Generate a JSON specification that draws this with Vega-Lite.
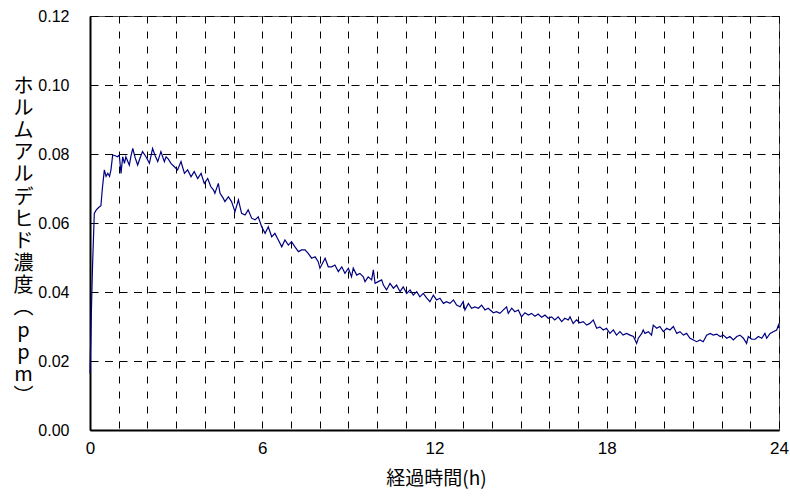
{
  "$schema": "https://vega.github.io/schema/vega-lite/v6.json",
  "width": 689,
  "height": 414,
  "autosize": {"type": "none"},
  "padding": {"left": 90, "top": 16, "right": 11, "bottom": 68},
  "background": "white",
  "config": {"view": {"stroke": "#555", "strokeWidth": 1}, "font": "Liberation Sans"},
  "data": {"values": [
    {"t":0,"v":0.0164},{"t":0.05,"v":0.035},{"t":0.09,"v":0.048},{"t":0.15,"v":0.0628},{"t":0.22,"v":0.0638},{"t":0.3,"v":0.0645},{"t":0.38,"v":0.065},{"t":0.43,"v":0.07},{"t":0.5,"v":0.0754},{"t":0.56,"v":0.0735},{"t":0.62,"v":0.0744},{"t":0.68,"v":0.0735},{"t":0.73,"v":0.0754},{"t":0.79,"v":0.0797},{"t":0.88,"v":0.0795},{"t":0.96,"v":0.0792},{"t":1.02,"v":0.0797},{"t":1.08,"v":0.0744},{"t":1.14,"v":0.0792},{"t":1.2,"v":0.0773},{"t":1.25,"v":0.0792},{"t":1.31,"v":0.078},{"t":1.37,"v":0.0768},{"t":1.43,"v":0.0795},{"t":1.49,"v":0.0816},{"t":1.57,"v":0.079},{"t":1.66,"v":0.0768},{"t":1.75,"v":0.079},{"t":1.83,"v":0.0807},{"t":1.95,"v":0.0792},{"t":2.07,"v":0.0773},{"t":2.18,"v":0.0816},{"t":2.27,"v":0.0795},{"t":2.36,"v":0.0778},{"t":2.47,"v":0.0807},{"t":2.59,"v":0.0778},{"t":2.65,"v":0.0792},{"t":2.73,"v":0.0785},{"t":2.82,"v":0.0773},{"t":2.94,"v":0.0763},{"t":3.05,"v":0.0754},{"t":3.17,"v":0.0778},{"t":3.29,"v":0.0744},{"t":3.4,"v":0.0754},{"t":3.52,"v":0.0734},{"t":3.63,"v":0.0749},{"t":3.75,"v":0.0729},{"t":3.87,"v":0.0744},{"t":3.98,"v":0.0715},{"t":4.1,"v":0.0729},{"t":4.21,"v":0.0705},
    {"t":4.3,"v":0.0696},{"t":4.35,"v":0.0686},{"t":4.47,"v":0.0715},{"t":4.53,"v":0.0686},{"t":4.64,"v":0.0672},{"t":4.7,"v":0.0662},{"t":4.82,"v":0.0676},{"t":4.93,"v":0.0662},{"t":5.05,"v":0.0633},{"t":5.17,"v":0.0667},{"t":5.28,"v":0.0628},{"t":5.4,"v":0.0623},{"t":5.51,"v":0.0638},{"t":5.63,"v":0.0614},{"t":5.75,"v":0.0609},{"t":5.86,"v":0.0618},{"t":5.98,"v":0.0589},{"t":6.1,"v":0.057},{"t":6.21,"v":0.0589},{"t":6.33,"v":0.056},{"t":6.44,"v":0.057},{"t":6.56,"v":0.0551},{"t":6.68,"v":0.0531},{"t":6.79,"v":0.0551},{"t":6.91,"v":0.0536},{"t":7.02,"v":0.0546},{"t":7.14,"v":0.0531},{"t":7.26,"v":0.0517},{"t":7.37,"v":0.0522},{"t":7.49,"v":0.0522},{"t":7.6,"v":0.0512},{"t":7.72,"v":0.0498},{"t":7.84,"v":0.0502},{"t":7.95,"v":0.0488},{"t":8.01,"v":0.0469},{"t":8.19,"v":0.0498},{"t":8.3,"v":0.0473},{"t":8.42,"v":0.0473},{"t":8.53,"v":0.0478},{"t":8.65,"v":0.0459},{"t":8.77,"v":0.0473},{"t":8.88,"v":0.0454},{"t":9.0,"v":0.0469},{"t":9.11,"v":0.0444},
    {"t":9.17,"v":0.0469},{"t":9.29,"v":0.0449},{"t":9.4,"v":0.0454},{"t":9.52,"v":0.0444},{"t":9.58,"v":0.043},{"t":9.69,"v":0.0444},{"t":9.81,"v":0.0435},{"t":9.87,"v":0.0464},{"t":9.93,"v":0.0425},{"t":10.04,"v":0.043},{"t":10.16,"v":0.0435},{"t":10.22,"v":0.042},{"t":10.33,"v":0.0406},{"t":10.45,"v":0.0425},{"t":10.57,"v":0.0411},{"t":10.68,"v":0.042},{"t":10.8,"v":0.0401},{"t":10.91,"v":0.0415},{"t":11.03,"v":0.0396},{"t":11.15,"v":0.0406},{"t":11.26,"v":0.0391},{"t":11.38,"v":0.0401},{"t":11.49,"v":0.0386},{"t":11.61,"v":0.0396},{"t":11.73,"v":0.0382},{"t":11.84,"v":0.0372},{"t":11.96,"v":0.0391},{"t":12.07,"v":0.0377},{"t":12.19,"v":0.0382},{"t":12.31,"v":0.0367},{"t":12.42,"v":0.0372},{"t":12.54,"v":0.0367},{"t":12.66,"v":0.0377},{"t":12.77,"v":0.0362},{"t":12.89,"v":0.0357},{"t":13.0,"v":0.0372},{"t":13.06,"v":0.0348},{"t":13.18,"v":0.0367},{"t":13.29,"v":0.0353},{"t":13.41,"v":0.0357},{"t":13.53,"v":0.0353},{"t":13.64,"v":0.0362},{"t":13.76,"v":0.0348},{"t":13.87,"v":0.0353},
    {"t":14.05,"v":0.034},{"t":14.16,"v":0.0343},{"t":14.28,"v":0.0338},{"t":14.4,"v":0.0348},{"t":14.51,"v":0.0357},{"t":14.57,"v":0.0338},{"t":14.69,"v":0.0353},{"t":14.8,"v":0.0343},{"t":14.92,"v":0.0348},{"t":15.03,"v":0.0328},{"t":15.15,"v":0.034},{"t":15.27,"v":0.0333},{"t":15.38,"v":0.0338},{"t":15.5,"v":0.033},{"t":15.61,"v":0.0336},{"t":15.73,"v":0.0327},{"t":15.85,"v":0.0333},{"t":15.96,"v":0.0324},{"t":16.08,"v":0.0328},{"t":16.19,"v":0.0319},{"t":16.31,"v":0.0328},{"t":16.43,"v":0.0314},{"t":16.54,"v":0.0324},{"t":16.66,"v":0.0319},{"t":16.72,"v":0.0328},{"t":16.83,"v":0.0309},{"t":16.95,"v":0.0319},{"t":17.06,"v":0.0311},{"t":17.18,"v":0.0314},{"t":17.3,"v":0.0304},{"t":17.41,"v":0.0309},{"t":17.53,"v":0.0319},{"t":17.65,"v":0.0295},{"t":17.76,"v":0.0299},{"t":17.88,"v":0.029},{"t":17.99,"v":0.0295},{"t":18.11,"v":0.028},{"t":18.23,"v":0.029},{"t":18.34,"v":0.0275},{"t":18.46,"v":0.0285},{"t":18.57,"v":0.0275},{"t":18.69,"v":0.028},
    {"t":18.81,"v":0.0275},{"t":18.93,"v":0.0271},{"t":19.04,"v":0.0251},{"t":19.1,"v":0.0266},{"t":19.22,"v":0.028},{"t":19.27,"v":0.029},{"t":19.33,"v":0.028},{"t":19.45,"v":0.0285},{"t":19.56,"v":0.0275},{"t":19.62,"v":0.0304},{"t":19.74,"v":0.0295},{"t":19.85,"v":0.03},{"t":19.97,"v":0.0285},{"t":20.09,"v":0.0295},{"t":20.2,"v":0.029},{"t":20.32,"v":0.03},{"t":20.44,"v":0.028},{"t":20.55,"v":0.0285},{"t":20.67,"v":0.0275},{"t":20.78,"v":0.028},{"t":20.9,"v":0.0266},{"t":21.02,"v":0.0261},{"t":21.13,"v":0.0256},{"t":21.25,"v":0.0261},{"t":21.36,"v":0.0256},{"t":21.48,"v":0.0275},{"t":21.6,"v":0.028},{"t":21.71,"v":0.0275},{"t":21.83,"v":0.0278},{"t":21.95,"v":0.0271},{"t":22.06,"v":0.0275},{"t":22.18,"v":0.0266},{"t":22.29,"v":0.0271},{"t":22.41,"v":0.0261},{"t":22.53,"v":0.0271},{"t":22.64,"v":0.0275},{"t":22.76,"v":0.0266},{"t":22.87,"v":0.0251},{"t":22.93,"v":0.0271},{"t":23.05,"v":0.0263},{"t":23.17,"v":0.0263},{"t":23.28,"v":0.0271},{"t":23.4,"v":0.0266},{"t":23.51,"v":0.028},{"t":23.57,"v":0.0266},{"t":23.69,"v":0.028},{"t":23.8,"v":0.0285},{"t":23.92,"v":0.029},{"t":23.98,"v":0.0304},{"t":24.0,"v":0.0295}
  ]},
  "mark": {"type": "line", "color": "#000080", "strokeWidth": 1.2},
  "encoding": {
    "x": {
      "field": "t", "type": "quantitative",
      "scale": {"domain": [0, 24], "nice": false},
      "axis": {
        "values": [0,0.5,1,1.5,2,2.5,3,3.5,4,4.5,5,5.5,6,6.5,7,7.5,8,8.5,9,9.5,10,10.5,11,11.5,12,12.5,13,13.5,14,14.5,15,15.5,16,16.5,17,17.5,18,18.5,19,19.5,20,20.5,21,21.5,22,22.5,23,23.5,24],
        "format": "d",
        "labelExpr": "datum.value % 6 === 0 ? datum.label : ''",
        "ticks": false,
        "grid": true, "gridDash": [7, 8], "gridColor": "#000", "gridWidth": 1, "gridOpacity": 1,
        "domainColor": "#000", "domainWidth": 2,
        "labelFont": "Liberation Sans", "labelFontSize": 17, "labelColor": "#000",
        "labelPadding": 10, "labelDx": -3, "labelFlush": false, "labelOverlap": false,
        "title": "経過時間(h)", "titleFont": "Noto Sans CJK JP", "titleFontSize": 19,
        "titleFontWeight": "normal", "titleColor": "#000",
        "titleX": 346, "titleY": 48, "titleBaseline": "middle", "titleAlign": "center"
      }
    },
    "y": {
      "field": "v", "type": "quantitative",
      "scale": {"domain": [0, 0.12], "nice": false},
      "axis": {
        "values": [0, 0.02, 0.04, 0.06, 0.08, 0.1, 0.12],
        "format": ".2f",
        "ticks": false,
        "grid": true, "gridDash": [8, 6.5], "gridColor": "#000", "gridWidth": 1, "gridOpacity": 1,
        "domainColor": "#000", "domainWidth": 2,
        "labelFont": "Liberation Sans", "labelFontSize": 16, "labelColor": "#000", "labelPadding": 21,
        "title": ["ホ","ル","ム","ア","ル","デ","ヒ","ド","濃","度","︵","p","p","m","︶"],
        "titleAngle": 0, "titleFont": "Noto Sans CJK JP", "titleFontSize": 20,
        "titleLineHeight": 22.2, "titleFontWeight": "normal", "titleColor": "#000",
        "titleX": -67, "titleY": 70, "titleAlign": "center", "titleBaseline": "middle"
      }
    }
  }
}
